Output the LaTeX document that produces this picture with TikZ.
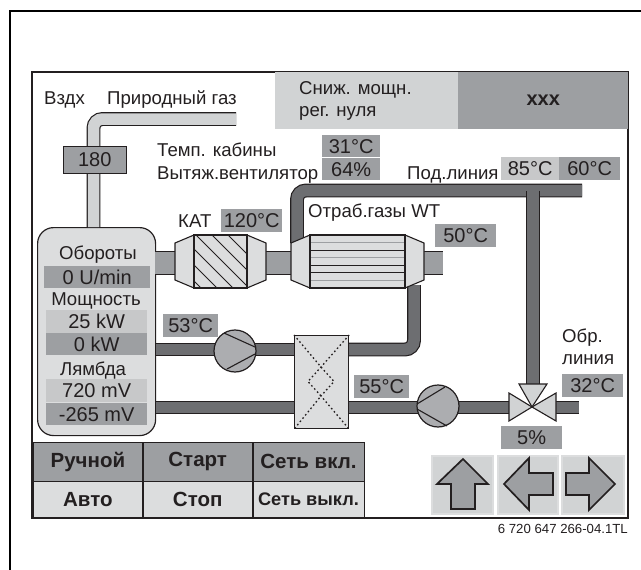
\documentclass[tikz,border=0pt]{standalone}
\usepackage{fontspec}
\setmainfont{Liberation Sans}
\usepackage{xcolor}
\usepackage{tikz}
\usetikzlibrary{positioning,calc,shapes.geometric}
\definecolor{panelLight}{HTML}{D1D3D4}
\definecolor{panelPale}{HTML}{DCDDDE}
\definecolor{panelMid}{HTML}{9D9FA2}
\definecolor{pipeDark}{HTML}{6D6E71}
\definecolor{inkDark}{HTML}{231F20}
\tikzset{
    txt/.style={font=\fontsize{18.6}{20}\selectfont, text=inkDark, inner sep=0pt, anchor=base west},
    txtc/.style={txt, anchor=base},
    valbox/.style={minimum width=#1, minimum height=23pt, inner sep=0pt, font=\fontsize{20}{20}\selectfont, text=inkDark, anchor=north west},
    midbox/.style={valbox=#1, fill=panelMid},
    lightbox/.style={valbox=#1, fill=panelLight!95!black},
    keycell/.style={minimum width=109pt, minimum height=38pt, inner sep=0pt, draw=inkDark, line width=0.8pt, font=\fontsize{20.5}{20}\selectfont\bfseries, text=inkDark, anchor=north west},
    hotpipe/.style={draw=inkDark, double=pipeDark, double distance=11.5pt, line width=1.2pt},
    airpipe/.style={draw=inkDark, double=panelLight, double distance=11.5pt, line width=1.2pt},
    pumpbody/.style={circle, draw=inkDark, line width=1.2pt, fill=panelMid!85!white, minimum size=42pt, inner sep=0pt},
    flap/.style={draw=inkDark, line width=1.1pt, fill=panelLight, line join=miter},
    keybtn/.style={draw=panelPale, line width=2pt, fill=panelLight},
    arrowkey/.style={draw=inkDark, line width=1.7pt, fill=panelMid, line join=miter},
}
\begin{document}
\begin{tikzpicture}[x=1pt, y=-1pt]
    \useasboundingbox (0,0) rectangle (641,570);

    % Frames
    \draw[line width=2pt, draw=black] (10,570) -- (10,11) -- (641,11);
    \draw[line width=1.2pt, draw=inkDark] (32,72) rectangle (628,518);

    % Header
    \node[minimum width=183pt, minimum height=57pt, inner sep=0pt, fill=panelLight, anchor=north west] (hdrleft) at (275,72) {};
    \node[minimum width=170pt, minimum height=57pt, inner sep=0pt, fill=panelMid, anchor=north west, font=\fontsize{20}{20}\selectfont\bfseries, text=inkDark] (hdrright) at (458,72) {xxx};
    \node[txt] (hdrone) at (299,94) {Сниж. мощн.};
    \node[txt] (hdrtwo) at (299,116) {рег. нуля};

    % Air line
    \coordinate (airend) at (236,119);
    \coordinate (airturn) at (93.5,119);
    \node[txt] (lblair) at (44,104) {Вздх};
    \node[txt] (lblgas) at (107,104) {Природный газ};

    % Engine panel
    \node[draw=inkDark, line width=1.2pt, fill=panelPale, rounded corners=16pt, minimum width=118pt, minimum height=208pt, inner sep=0pt, anchor=north west] (engine) at (37,227) {};
    \draw[airpipe, rounded corners=9pt] (engine.north -| airturn) -- (airturn) -- (airend);
    \node[midbox=63pt, minimum height=27pt, draw=inkDark, line width=0.4pt] (speedset) at (63,146) {180};

    \node[txtc] (lblrev) at (98,259) {Обороты};
    \node[midbox=106pt, minimum height=22pt] (revval) at (44,266) {0 U/min};
    \node[txtc] (lblpow) at (96,305) {Мощность};
    \node[lightbox=101pt] (powset) at (46,310) {25 kW};
    \node[midbox=101pt, minimum height=22pt] (powval) at (46,333) {0 kW};
    \node[txtc] (lbllam) at (93,375) {Лямбда};
    \node[lightbox=101pt] (lamset) at (46,379) {720 mV};
    \node[midbox=101pt, minimum height=22pt] (lamval) at (46,403) {-265 mV};

    % Hot water circuit
    \node[draw=inkDark, line width=1.2pt, fill=panelPale, minimum width=54pt, minimum height=93pt, inner sep=0pt, anchor=north west] (hx) at (294,335) {};
    \coordinate (valve) at (532,407);
    \coordinate (valvetop) at (533,384);
    \coordinate (valveleft) at (509,407.5);
    \coordinate (valveright) at (556,407.5);
    \coordinate (retend) at (579,407.5);
    \coordinate (flowend) at (582,190.5);
    \coordinate (flowtee) at (533,190.5);
    \coordinate (wtin) at (297,243);
    \coordinate (wtout) at (414,285);
    \coordinate (cornera) at (297,190.5);
    \coordinate (cornerb) at (414,349.5);
    \draw[hotpipe, rounded corners=9pt] (wtin) -- (cornera) -- (flowend);
    \draw[hotpipe] (flowtee) -- (valvetop);
    \draw[pipeDark, line width=11.5pt] (flowtee) -- ++(0,12);
    \draw[hotpipe, rounded corners=9pt] (wtout) -- (cornerb) -- (hx.east |- cornerb);
    \draw[hotpipe] (engine.east |- cornerb) -- (hx.west |- cornerb);
    \draw[hotpipe] (engine.east |- retend) -- (hx.west |- retend);
    \draw[hotpipe] (hx.east |- retend) -- (valveleft);
    \draw[hotpipe] (valveright) -- (retend);
    \node[pumpbody] (pumpa) at (235,351) {};
    \node[pumpbody] (pumpb) at (438,406) {};
    \draw[line width=1.1pt, draw=inkDark] (224,333) -- (255,347) (227,369) -- (255,354);
    \draw[line width=1.1pt, draw=inkDark] (417,404) -- (445,387) (417,409) -- (447,426);

    % Heat exchanger
    \draw[dash pattern=on 1.6pt off 2.6pt, line width=1.3pt, draw=inkDark] (hx.north west) -- (321,367) -- (334,381.5) -- (321,396) -- (hx.south east);
    \draw[dash pattern=on 1.6pt off 2.6pt, line width=1.3pt, draw=inkDark] (hx.north east) -- (321,367) -- (308,381.5) -- (321,396) -- (hx.south west);

    % Valve
    \draw[flap] (509,393) -- (509,421) -- (valve) -- cycle;
    \draw[flap] (556,393) -- (556,421) -- (valve) -- cycle;
    \draw[flap] (519,384) -- (547,384) -- (valve) -- cycle;

    % Exhaust line
    \fill[panelMid] (155,251) rectangle (443,274);
    \draw[draw=inkDark, line width=1pt] (155,251) -- (291,251) (155,274) -- (291,274) (424,251) -- (443,251) (424,274) -- (443,274);

    % Catalyst
    \draw[flap, fill=panelPale] (175,243) -- (194,235) -- (247,235) -- (266,243) -- (266,280) -- (247,288) -- (194,288) -- (175,280) -- cycle;
    \begin{scope}
        \clip (194,235) rectangle (247,288);
        \foreach \hatchx in {-60,-44,...,240}{
            \draw[line width=0.8pt, draw=inkDark] (\hatchx,235) -- ({\hatchx+53},288);
        }
    \end{scope}
    \draw[line width=1.1pt, draw=inkDark] (194,235) rectangle (247,288);

    % Exhaust gas heat exchanger
    \draw[flap, fill=panelPale] (291,243) -- (310,235) -- (405,235) -- (424,243) -- (424,280) -- (405,288) -- (310,288) -- (291,280) -- cycle;
    \foreach \stripey/\stripecol in {242/panelMid, 250/inkDark, 257/panelMid, 265/inkDark, 272/inkDark, 280/panelMid}{
        \draw[line width=1pt, draw=\stripecol] (310,\stripey) -- (405,\stripey);
    }
    \draw[line width=1.1pt, draw=inkDark] (310,235) rectangle (405,288);

    % Readings
    \node[txt] (lblcabin) at (157,156) {Темп. кабины};
    \node[txt] (lblfan) at (157,179) {Вытяж.вентилятор};
    \node[midbox=58pt, minimum height=22pt] (cabinval) at (322,135) {31°C};
    \node[midbox=58pt, minimum height=22pt] (fanval) at (322,158) {64\%};
    \node[txt] (lblflow) at (407,179) {Под.линия};
    \node[lightbox=58pt] (flowset) at (501,157) {85°C};
    \node[midbox=61pt] (flowval) at (559,157) {60°C};
    \node[txt] (lblkat) at (178,227) {КАТ};
    \node[midbox=61pt] (katval) at (221,209) {120°C};
    \node[txt] (lblwt) at (308,217) {Отраб.газы WT};
    \node[midbox=61pt] (wtval) at (435,224) {50°C};
    \node[midbox=55pt] (pumpaval) at (163,314) {53°C};
    \node[midbox=55pt] (pumpbval) at (354,375) {55°C};
    \node[txt] (lblret) at (562,342) {Обр.};
    \node[txt] (lblline) at (562,364) {линия};
    \node[midbox=61pt] (retval) at (562,374) {32°C};
    \node[midbox=61pt] (valveval) at (501,426) {5\%};

    % Keys
    \node[keycell, fill=panelMid, minimum height=39pt] (keymanual) at (33,442) {Ручной};
    \node[keycell, fill=panelMid, minimum height=39pt, right=0pt of keymanual] (keystart) {Старт};
    \node[keycell, fill=panelMid, minimum height=39pt, minimum width=111pt, right=0pt of keystart] (keymainson) {Сеть вкл.};
    \node[keycell, fill=panelPale, minimum height=36pt] (keyauto) at (33,481) {Авто};
    \node[keycell, fill=panelPale, minimum height=36pt, right=0pt of keyauto] (keystop) {Стоп};
    \node[keycell, fill=panelPale, minimum height=36pt, minimum width=111pt, right=0pt of keystop, font=\fontsize{18.2}{20}\selectfont\bfseries] (keymainsoff) {Сеть выкл.};

    % Arrow buttons
    \draw[keybtn] (432,456) rectangle (493,514);
    \draw[keybtn] (498,456) rectangle (558,514);
    \draw[keybtn] (562,456) rectangle (624,514);
    \draw[arrowkey] (463,459) -- (488,484) -- (475,484) -- (475,509) -- (451,509) -- (451,484) -- (437,484) -- cycle;
    \draw[arrowkey] (504,484) -- (529,458) -- (529,473) -- (553,473) -- (553,495) -- (529,495) -- (529,510) -- cycle;
    \draw[arrowkey] (615,484) -- (589,458) -- (589,473) -- (566,473) -- (566,495) -- (589,495) -- (589,510) -- cycle;

    \node[txt, anchor=base east, font=\fontsize{13.2}{14}\selectfont] (partno) at (628,533) {6 720 647 266-04.1TL};
\end{tikzpicture}
\end{document}
